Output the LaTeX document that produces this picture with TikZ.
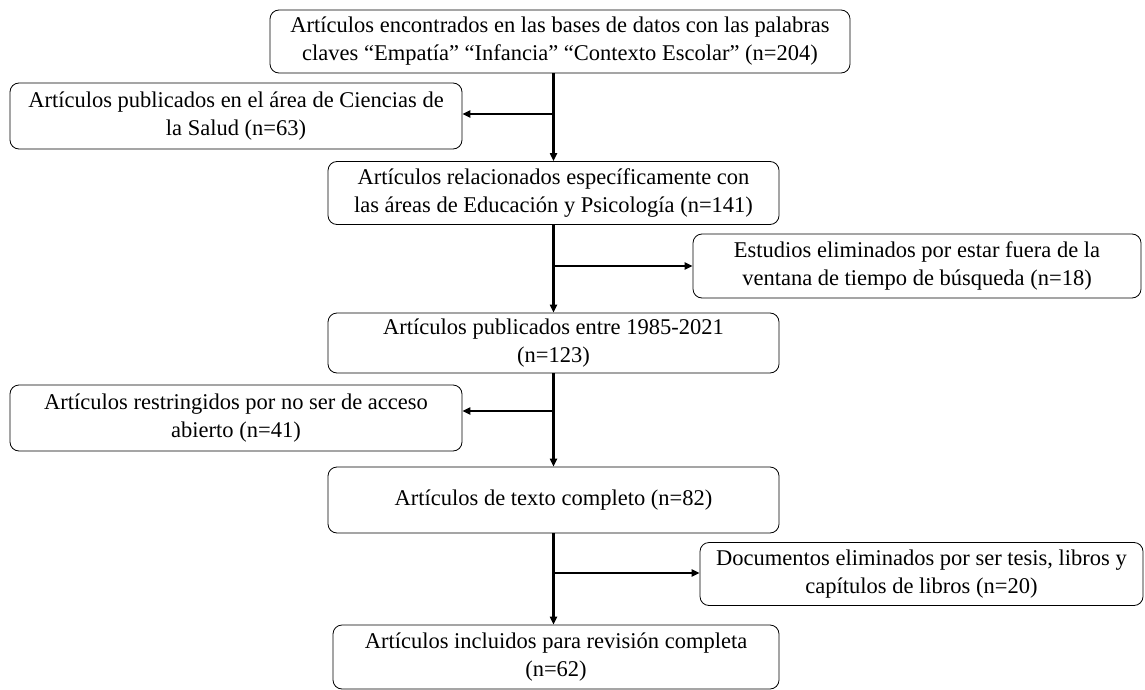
\documentclass[tikz,border=0pt]{standalone}
\usepackage{fontspec}
\setmainfont{Liberation Serif}
\usetikzlibrary{arrows.meta}
\begin{document}
\begin{tikzpicture}[x=1pt,y=-1pt,
  box/.style={draw=black,line width=0.8pt,rounded corners=9pt,align=center,inner sep=0pt,
    font=\fontsize{22.5}{28}\selectfont},
  arr/.style={line width=2.4pt,-{Triangle[length=8pt,width=7pt]}}]
\useasboundingbox (0,0) rectangle (1145,690);
\node[box,minimum width=580pt,minimum height=63pt] (b1) at (560,41.5) {Artículos encontrados en las bases de datos con las palabras\\claves “Empatía” “Infancia” “Contexto Escolar” (n=204)};
\node[box,minimum width=452pt,minimum height=66pt] (b2) at (236,116) {Artículos publicados en el área de Ciencias de\\la Salud (n=63)};
\node[box,minimum width=451pt,minimum height=63pt] (b3) at (553.5,193) {Artículos relacionados específicamente con\\las áreas de Educación y Psicología (n=141)};
\node[box,minimum width=448pt,minimum height=64pt] (b4) at (917,266) {Estudios eliminados por estar fuera de la\\ventana de tiempo de búsqueda (n=18)};
\node[box,minimum width=451pt,minimum height=60pt] (b5) at (553.5,343) {Artículos publicados entre 1985-2021\\(n=123)};
\node[box,minimum width=452pt,minimum height=66pt] (b6) at (236,418) {Artículos restringidos por no ser de acceso\\abierto (n=41)};
\node[box,minimum width=451pt,minimum height=66pt] (b7) at (553.5,500) {Artículos de texto completo (n=82)};
\node[box,minimum width=443pt,minimum height=63pt] (b8) at (921.5,574) {Documentos eliminados por ser tesis, libros y\\capítulos de libros (n=20)};
\node[box,minimum width=446pt,minimum height=64pt] (b9) at (556,657) {Artículos incluidos para revisión completa\\(n=62)};
\coordinate (j1) at (553.5,114);
\coordinate (j2) at (553.5,266);
\coordinate (j3) at (553.5,411);
\coordinate (j4) at (553.5,573);
\draw[arr] (b1.south -| b3.north) -- (b3.north);
\draw[arr] (j1) -- (j1 -| b2.east);
\draw[arr] (b3.south) -- (b5.north);
\draw[arr] (j2) -- (j2 -| b4.west);
\draw[arr] (b5.south) -- (b7.north);
\draw[arr] (j3) -- (j3 -| b6.east);
\draw[arr] (b7.south) -- (b9.north -| b7.south);
\draw[arr] (j4) -- (j4 -| b8.west);
\end{tikzpicture}
\end{document}
